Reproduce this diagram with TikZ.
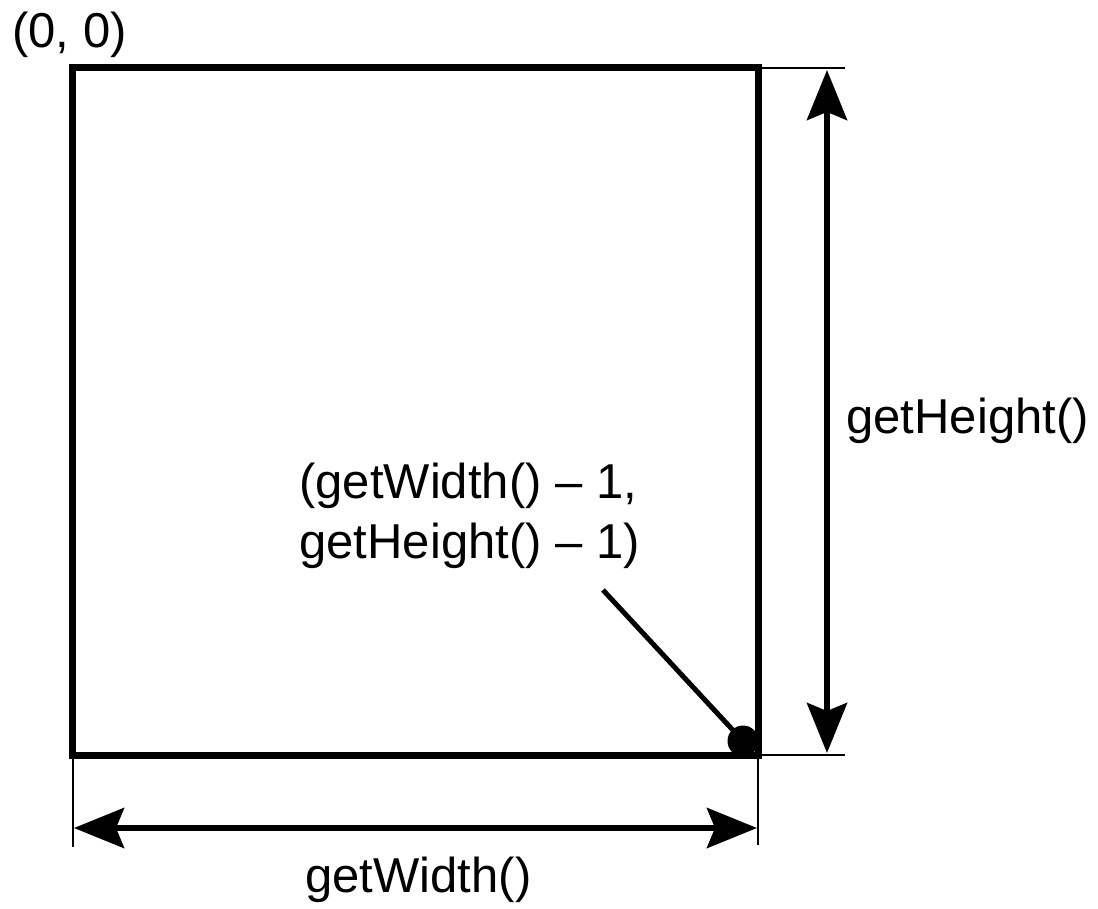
\documentclass[tikz,border=0pt]{standalone}
\usepackage{fontspec}
\setmainfont{Liberation Sans}
\usetikzlibrary{arrows.meta}
\begin{document}
\begin{tikzpicture}[x=0.5pt,y=-0.5pt,
  frame/.style={line width=3.5pt, line join=miter},
  extline/.style={line width=1.3pt},
  dimarrow/.style={line width=3pt, {Stealth[length=25pt,width=20pt,inset=4pt]}-{Stealth[length=25pt,width=20pt,inset=4pt]}},
  leader/.style={line width=2.5pt},
  lbl/.style={inner sep=0pt, font=\fontsize{24.5}{30}\selectfont}]
\useasboundingbox (0,0) rectangle (1098,909);
% the component's bounds
\coordinate (tl) at (72,68);
\coordinate (br) at (758,755);
\coordinate (tr) at (758,68);
\coordinate (bl) at (72,755);
\draw[frame] (tl) rectangle (br);
% extension lines for the dimensions
\coordinate (trx) at (845,68);
\coordinate (brx) at (845,755);
\coordinate (bry) at (758,845);
\coordinate (bly) at (73,847);
\draw[extline] (tr) -- (trx);
\draw[extline] (br) -- (brx);
\draw[extline] (br) -- (bry);
\draw[extline] ([xshift=0.5]bl) -- (bly);
% dimension arrows
\coordinate (htop) at (827,70);
\coordinate (hbot) at (827,753);
\coordinate (wleft) at (74,828);
\coordinate (wright) at (757,828);
\draw[dimarrow] (htop) -- (hbot);
\draw[dimarrow] (wleft) -- (wright);
% labels
\node[lbl, anchor=base west] (origin) at (12,48) {(0, 0)};
\node[lbl, anchor=base west] (hlabel) at (846,433) {getHeight()};
\node[lbl, anchor=base west] (wlabel) at (305,892) {getWidth()};
\node[lbl, anchor=north west, align=left] (corner) at (299,463)
  {(getWidth() – 1,\\getHeight() – 1)};
% last pixel marker and its leader
\node[circle, fill=black, inner sep=0pt, minimum size=15.5pt] (dot) at (743,741) {};
\coordinate (leadstart) at (603,590);
\draw[leader] (leadstart) -- (dot.center);
\end{tikzpicture}
\end{document}
